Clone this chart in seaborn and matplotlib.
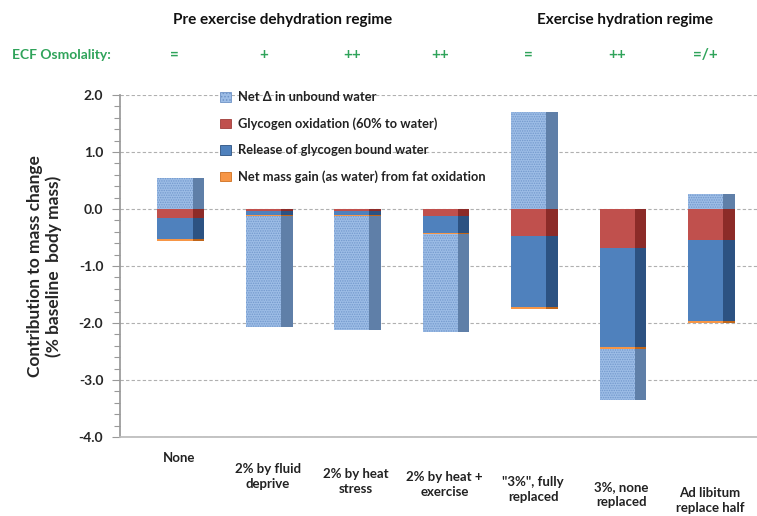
import numpy as np
import pandas as pd
import matplotlib
matplotlib.use('Agg')
import matplotlib.pyplot as plt
import matplotlib.patches as mpatches
import seaborn as sns

# data (% of baseline body mass)
cats = ['None', '2% by fluid\ndeprive', '2% by heat\nstress', '2% by heat +\nexercise',
        '"3%", fully\nreplaced', '3%, none\nreplaced', 'Ad libitum\nreplace half']
unbound = [0.55, -1.95, -2.00, -1.72, 1.70, -0.90, 0.26]
glyc_ox = [-0.15, -0.03, -0.03, -0.12, -0.47, -0.68, -0.55]
bound = [-0.38, -0.08, -0.08, -0.30, -1.25, -1.74, -1.42]
fat = [-0.03, -0.01, -0.01, -0.02, -0.03, -0.03, -0.03]
osmo = ['=', '+', '++', '++', '=', '++', '=/+']

labels = ['Net \u0394 in unbound water', 'Glycogen oxidation (60% to water)',
          'Release of glycogen bound water', 'Net mass gain (as water) from fat oxidation']
face = ['#9dbde6', '#c0504d', '#4f81bd', '#f79646']
side = ['#5f7fa8', '#8c2b28', '#2c5282', '#c0661a']
green = '#2fa35a'

sns.set_theme(style='white')
plt.rcParams['font.family'] = ['Lato', 'DejaVu Sans']
plt.rcParams['hatch.linewidth'] = 0.7

df = pd.DataFrame({'cat': cats, 'unbound': unbound, 'glyc_ox': glyc_ox,
                   'bound': bound, 'fat': fat})

# stack: positives up from zero, negatives down in order red, blue, orange, unbound
neg_bottom = np.zeros(len(df))
pos_bottom = np.zeros(len(df))
segments = []
for col, i in [('glyc_ox', 1), ('bound', 2), ('fat', 3), ('unbound', 0)]:
    vals = df[col].to_numpy()
    bottoms = np.where(vals < 0, neg_bottom, pos_bottom)
    segments.append((col, i, vals, bottoms))
    neg_bottom = neg_bottom + np.where(vals < 0, vals, 0)
    pos_bottom = pos_bottom + np.where(vals > 0, vals, 0)

fig = plt.figure(figsize=(7.57, 5.16), dpi=100)
ax = fig.add_axes([120 / 757, 1 - 437 / 516, 637 / 757, 342 / 516])

w, sw = 0.40, 0.13
x = np.arange(len(cats))
for col, i, vals, bottoms in segments:
    hatch = '.......' if col == 'unbound' else None
    edge = '#7298cc' if col == 'unbound' else face[i]
    sns.barplot(x=df['cat'], y=vals, bottom=bottoms, color=face[i], width=w,
                saturation=1, hatch=hatch, edgecolor=edge, linewidth=0,
                ax=ax, zorder=3)
    # darker side face
    ax.bar(x + w / 2 + sw / 2, vals, bottom=bottoms, width=sw, color=side[i],
           linewidth=0, zorder=3)

ax.set_xlim(-0.62, 6.58)
ax.set_ylim(-4, 2)
ax.set_yticks(np.arange(-4, 2.01, 1))
ax.set_yticks(np.arange(-4, 2.01, 0.2), minor=True)
ax.set_yticklabels([f'{v:.1f}' for v in np.arange(-4, 2.01, 1)], fontweight='bold', fontsize=10)
ax.tick_params(axis='y', which='both', left=True, length=4, width=0.8, color='#999999', pad=6)
ax.tick_params(axis='y', which='major', length=6)
ax.yaxis.grid(True, linestyle=(0, (3, 2)), color='#b0b0b0', linewidth=0.8, zorder=0)
ax.xaxis.grid(False)
ax.set_xticks([])
ax.set_xlabel('')
for s in ['top', 'right']:
    ax.spines[s].set_visible(False)
ax.spines['left'].set_color('#999999')
ax.spines['bottom'].set_color('#bbbbbb')

ax.set_ylabel('Contribution to mass change\n(% baseline  body mass)', fontsize=12.5,
              fontweight='bold', labelpad=12)

# category labels drift downward (perspective of the original), offsets in points
drops = [11, 19, 22, 24.5, 28, 32, 36]
for xi, lab, d in zip(x, cats, drops):
    ax.annotate(lab, xy=(xi + 0.05, 0), xycoords=('data', 'axes fraction'),
                xytext=(0, -d), textcoords='offset points', ha='center', va='top',
                fontsize=9.5, fontweight='bold', color='#222222', linespacing=1.3)

# header texts
fig.text(283 / 757, 1 - 20 / 516, 'Pre exercise dehydration regime', ha='center',
         va='center', fontsize=11, fontweight='bold', color='#111111')
fig.text(625 / 757, 1 - 20 / 516, 'Exercise hydration regime', ha='center',
         va='center', fontsize=11, fontweight='bold', color='#111111')
fig.text(12 / 757, 1 - 55 / 516, 'ECF Osmolality:', ha='left', va='center',
         fontsize=10, fontweight='bold', color=green)
for xi, s in zip(x, osmo):
    ax.annotate(s, xy=(xi, 1 - 55 / 516), xycoords=('data', 'figure fraction'),
                ha='center', va='center', fontsize=11, fontweight='bold', color=green)

handles = [mpatches.Patch(facecolor=face[0], edgecolor='#6f93c6', hatch='.....', linewidth=0.6),
           mpatches.Patch(facecolor=face[1], edgecolor='#a03c39', linewidth=0.6),
           mpatches.Patch(facecolor=face[2], edgecolor='#2c5282', linewidth=0.6),
           mpatches.Patch(facecolor=face[3], edgecolor='#d0701e', linewidth=0.6)]
leg = ax.legend(handles, labels, loc='upper left', bbox_to_anchor=(215 / 757, 1 - 86 / 516),
                bbox_transform=fig.transFigure, frameon=False, fontsize=9.3,
                handlelength=0.8, handleheight=0.8, handletextpad=0.6,
                labelspacing=1.1, borderaxespad=0)
for t in leg.get_texts():
    t.set_fontweight('bold')
    t.set_color('#222222')

fig.savefig('out.png', dpi=100)
